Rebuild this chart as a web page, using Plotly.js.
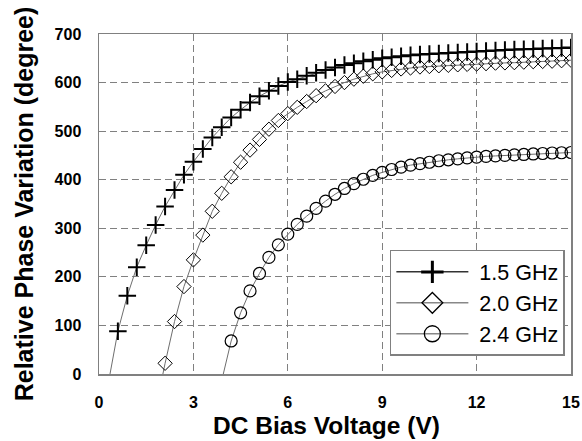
<!DOCTYPE html>
<html>
<head>
<meta charset="utf-8">
<script src="https://cdn.plot.ly/plotly-3.0.1.min.js"></script>
<style>html,body{margin:0;padding:0;background:#fff;}#chart{width:582px;height:441px;}</style>
</head>
<body>
<div id="chart"></div>
<script>
// DC bias voltage (V) and relative phase variation (degree)
var v15 = [0.6,0.9,1.2,1.5,1.8,2.1,2.4,2.7,3.0,3.3,3.6,3.9,4.2,4.5,4.8,5.1,5.4,5.7,6.0,6.3,6.6,6.9,7.2,7.5,7.8,8.1,8.4,8.7,9.0,9.3,9.6,9.9,10.2,10.5,10.8,11.1,11.4,11.7,12.0,12.3,12.6,12.9,13.2,13.5,13.8,14.1,14.4,14.7,15.0];
var p15 = [88,161,220,265,307,345,379,410,437,463,487,508,528,544,559,572,583,593,601,607,614,620,626,631,636,640,644,647,650,652,654,656,658,659,660,661,662,663,664,665,666,667,668,668.5,669,670,670.5,671,672];
var v20 = [2.1,2.4,2.7,3.0,3.3,3.6,3.9,4.2,4.5,4.8,5.1,5.4,5.7,6.0,6.3,6.6,6.9,7.2,7.5,7.8,8.1,8.4,8.7,9.0,9.3,9.6,9.9,10.2,10.5,10.8,11.1,11.4,11.7,12.0,12.3,12.6,12.9,13.2,13.5,13.8,14.1,14.4,14.7,15.0];
var p20 = [22,108,180,235,286,335,372,406,436,461,483,504,522,536,549,561,573,583,592,600,607,613,618,622,625,628,630,632,633,634.5,635.5,636.5,637.5,638,639,640,640.5,641,642,643,643.5,644,645,646];
var v24 = [4.2,4.5,4.8,5.1,5.4,5.7,6.0,6.3,6.6,6.9,7.2,7.5,7.8,8.1,8.4,8.7,9.0,9.3,9.6,9.9,10.2,10.5,10.8,11.1,11.4,11.7,12.0,12.3,12.6,12.9,13.2,13.5,13.8,14.1,14.4,14.7,15.0];
var p24 = [68,126,171,207,240,266,288,308,325,341,356,370,382,392,401,409,415,421,426,430,433,436,439,441,443,445,446.5,448,449,450,451,452,453,454,455,455.5,456];
// voltage where each fitted curve reaches 0 degree
var zero15 = 0.35, zero20 = 2.03, zero24 = 3.95;
var seriesNames = ['1.5 GHz','2.0 GHz','2.4 GHz'];
var xTicks = [0,3,6,9,12,15];
var yTicks = [0,100,200,300,400,500,600,700];
var xTitle = 'DC Bias Voltage (V)';
var yTitle = 'Relative Phase Variation (degree)';

var FONT = 'Arial, "Liberation Sans", sans-serif';
var lineCol = '#6e6e6e';

function curve(zero, xs, ys) {
  return {x: [zero].concat(xs), y: [0].concat(ys), mode: 'lines', type: 'scatter',
    line: {color: lineCol, width: 1}, showlegend: false, hoverinfo: 'skip'};
}
function marks(xs, ys, sym, size, lw) {
  return {x: xs, y: ys, mode: 'markers', type: 'scatter', showlegend: false,
    marker: {symbol: sym, size: size, color: '#000', line: {color: '#000', width: lw}}};
}
function legendItem(name, sym, lw, lcol) {
  return {x: [null], y: [null], name: '\u00a0' + name, mode: 'lines+markers', type: 'scatter',
    line: {color: lcol, width: 1.5},
    marker: {symbol: sym, size: 16, color: '#000', line: {color: '#000', width: lw}}};
}

var data = [
  curve(zero15, v15, p15), curve(zero20, v20, p20), curve(zero24, v24, p24),
  marks(v15, p15, 'cross-thin-open', 12.5, 2),
  marks(v20, p20, 'diamond-open', 11, 1),
  marks(v24, p24, 'circle-open', 12, 1.2),
  legendItem(seriesNames[0], 'cross-thin-open', 3, '#333'),
  legendItem(seriesNames[1], 'diamond-open', 1.3, '#888'),
  legendItem(seriesNames[2], 'circle-open', 1.3, '#888')
];

var axisCommon = {
  showline: true, linecolor: '#808080', linewidth: 1.5, mirror: true,
  showgrid: true, gridcolor: '#808080', gridwidth: 1, griddash: '7px,4px',
  zeroline: false, ticks: '', fixedrange: true,
  tickfont: {family: FONT, size: 16, color: '#000', weight: 'bold'}
};

var layout = {
  width: 582, height: 441,
  margin: {l: 99, r: 11, t: 34, b: 67},
  paper_bgcolor: '#fff', plot_bgcolor: '#fff',
  font: {family: FONT, color: '#000'},
  xaxis: Object.assign({}, axisCommon, {
    range: [0, 15], tickvals: xTicks, ticktext: xTicks.map(String), ticklabelstandoff: 13
  }),
  yaxis: Object.assign({}, axisCommon, {
    range: [0, 700], tickvals: yTicks, ticktext: yTicks.map(String), ticklabelstandoff: 13,
    title: {text: yTitle, standoff: 14, font: {family: FONT, size: 25, color: '#000', weight: 'bold'}}
  }),
  annotations: [{
    text: xTitle, xref: 'paper', yref: 'paper', x: 0.482, y: -0.152,
    xanchor: 'center', yanchor: 'middle', showarrow: false,
    font: {family: FONT, size: 24.5, color: '#000', weight: 'bold'}
  }],
  showlegend: true,
  legend: {x: 0.987, xanchor: 'right', y: 0.365, yanchor: 'top',
    bgcolor: '#fff', bordercolor: '#808080', borderwidth: 1.5,
    font: {family: FONT, size: 21.5, color: '#000'}, itemwidth: 72, tracegroupgap: 0}
};

Plotly.newPlot('chart', data, layout, {staticPlot: true, displayModeBar: false});
</script>
</body>
</html>
